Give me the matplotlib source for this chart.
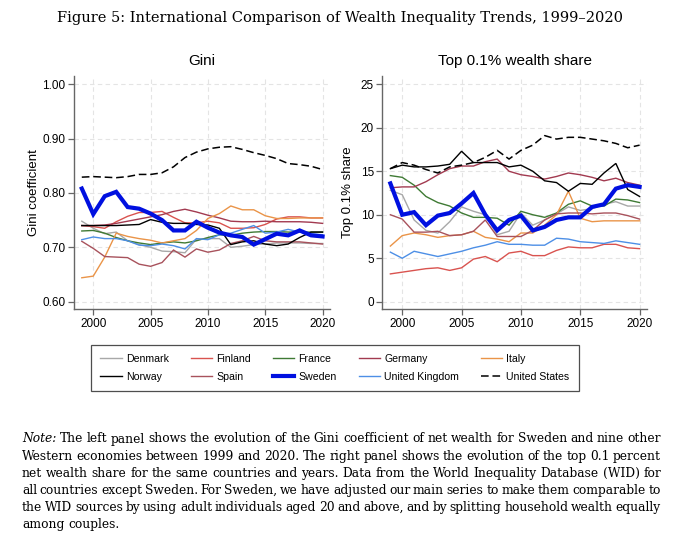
import matplotlib
matplotlib.use("Agg")
import matplotlib.pyplot as plt

years = list(range(1999, 2021))

countries = ["Denmark", "Finland", "France", "Germany", "Italy",
             "Norway", "Spain", "Sweden", "United Kingdom", "United States"]

gini_denmark = [0.748, 0.735, 0.725, 0.728, 0.712, 0.705, 0.700, 0.693, 0.692, 0.690, 0.715,
                0.716, 0.716, 0.700, 0.702, 0.705, 0.706, 0.708, 0.708, 0.708, 0.707, 0.707]
gini_finland = [0.740, 0.738, 0.735, 0.747, 0.757, 0.764, 0.764, 0.766, 0.755, 0.745, 0.745,
                0.748, 0.745, 0.735, 0.735, 0.736, 0.742, 0.752, 0.756, 0.756, 0.754, 0.754]
gini_france = [0.730, 0.731, 0.726, 0.718, 0.712, 0.708, 0.705, 0.708, 0.710, 0.708, 0.712,
               0.718, 0.723, 0.722, 0.726, 0.728, 0.729, 0.729, 0.728, 0.728, 0.728, 0.728]
gini_germany = [0.740, 0.740, 0.741, 0.744, 0.748, 0.752, 0.756, 0.760, 0.766, 0.770, 0.765,
                0.759, 0.754, 0.748, 0.747, 0.747, 0.748, 0.747, 0.747, 0.747, 0.746, 0.744]
gini_italy = [0.644, 0.647, 0.682, 0.726, 0.720, 0.716, 0.713, 0.708, 0.712, 0.716, 0.731,
              0.753, 0.762, 0.776, 0.769, 0.769, 0.758, 0.753, 0.753, 0.754, 0.754, 0.754]
gini_norway = [0.740, 0.740, 0.740, 0.740, 0.741, 0.742, 0.751, 0.746, 0.744, 0.744, 0.742,
               0.741, 0.735, 0.705, 0.710, 0.712, 0.706, 0.703, 0.706, 0.718, 0.728, 0.728]
gini_spain = [0.711, 0.698, 0.683, 0.682, 0.681, 0.669, 0.665, 0.672, 0.695, 0.682, 0.697,
              0.691, 0.695, 0.707, 0.712, 0.720, 0.712, 0.710, 0.710, 0.710, 0.708, 0.706]
gini_sweden = [0.808, 0.761, 0.794, 0.802, 0.774, 0.771, 0.762, 0.750, 0.731, 0.731, 0.747,
               0.736, 0.727, 0.722, 0.719, 0.705, 0.715, 0.725, 0.722, 0.731, 0.722, 0.720]
gini_uk = [0.714, 0.719, 0.716, 0.716, 0.712, 0.704, 0.703, 0.706, 0.703, 0.697, 0.716,
           0.714, 0.723, 0.726, 0.733, 0.740, 0.726, 0.728, 0.733, 0.728, 0.725, 0.723]
gini_us = [0.829, 0.830, 0.829, 0.828, 0.830, 0.834, 0.834, 0.837, 0.848, 0.865, 0.875,
           0.881, 0.884, 0.885, 0.880, 0.874, 0.869, 0.863, 0.854, 0.852, 0.849, 0.843]

top_denmark = [12.8, 12.3, 9.4, 8.2, 7.9, 9.2, 10.9, 10.4, 10.0, 7.7, 8.1,
               10.2, 8.8, 9.4, 10.1, 10.9, 10.5, 10.7, 11.2, 11.5, 11.0, 11.0]
top_finland = [3.2, 3.4, 3.6, 3.8, 3.9, 3.6, 3.9, 4.9, 5.2, 4.6, 5.6,
               5.8, 5.3, 5.3, 5.9, 6.3, 6.2, 6.2, 6.6, 6.6, 6.2, 6.1]
top_france = [14.5, 14.3, 13.4, 12.1, 11.4, 11.0, 10.2, 9.7, 9.7, 9.6, 8.8,
              10.4, 10.0, 9.7, 10.2, 11.2, 11.6, 11.0, 11.0, 11.8, 11.7, 11.4]
top_germany = [13.1, 13.2, 13.2, 13.8, 14.6, 15.3, 15.6, 15.6, 16.1, 16.4, 15.0,
               14.6, 14.4, 14.1, 14.4, 14.8, 14.6, 14.3, 13.9, 14.2, 13.7, 13.4]
top_italy = [6.4, 7.6, 7.9, 7.7, 7.4, 7.6, 7.7, 8.1, 7.4, 7.2, 6.9,
             7.9, 7.9, 8.8, 10.0, 12.7, 9.6, 9.2, 9.3, 9.3, 9.3, 9.3]
top_norway = [15.3, 15.7, 15.5, 15.5, 15.6, 15.8, 17.3, 16.0, 16.0, 16.0, 15.5,
              15.7, 15.0, 13.9, 13.7, 12.7, 13.6, 13.5, 14.8, 15.9, 12.9, 12.1]
top_spain = [10.0, 9.5, 8.0, 8.0, 8.1, 7.6, 7.7, 8.1, 9.4, 7.5, 7.5,
             7.5, 8.2, 9.4, 10.1, 10.2, 10.2, 10.1, 10.2, 10.2, 9.9, 9.5]
top_sweden = [13.6, 10.0, 10.3, 8.8, 9.9, 10.2, 11.3, 12.5, 10.0, 8.2, 9.4,
              9.9, 8.2, 8.6, 9.4, 9.7, 9.7, 10.9, 11.2, 13.0, 13.4, 13.2]
top_uk = [5.7, 5.0, 5.8, 5.5, 5.2, 5.5, 5.8, 6.2, 6.5, 6.9, 6.6,
          6.6, 6.5, 6.5, 7.3, 7.2, 6.9, 6.8, 6.7, 7.0, 6.8, 6.6]
top_us = [15.3, 16.0, 15.7, 15.2, 14.8, 15.5, 15.7, 16.0, 16.6, 17.4, 16.4,
          17.4, 18.0, 19.1, 18.7, 18.9, 18.9, 18.7, 18.5, 18.2, 17.7, 18.0]

gini_series = [gini_denmark, gini_finland, gini_france, gini_germany, gini_italy,
               gini_norway, gini_spain, gini_sweden, gini_uk, gini_us]
top_series = [top_denmark, top_finland, top_france, top_germany, top_italy,
              top_norway, top_spain, top_sweden, top_uk, top_us]

gini_ticks = [0.60, 0.70, 0.80, 0.90, 1.00]
top_ticks = [0, 5, 10, 15, 20, 25]
year_ticks = [2000, 2005, 2010, 2015, 2020]

title_text = "Figure 5: International Comparison of Wealth Inequality Trends, 1999\u20132020"
note_lines = [
    "The left panel shows the evolution of the Gini coefficient of net wealth for Sweden and nine other",
    "Western economies between 1999 and 2020.  The right panel shows the evolution of the top 0.1 percent",
    "net wealth share for the same countries and years.  Data from the World Inequality Database (WID) for",
    "all countries except Sweden.  For Sweden, we have adjusted our main series to make them comparable to",
    "the WID sources by using adult individuals aged 20 and above, and by splitting household wealth equally",
    "among couples.",
]

colors = ["#a8a8a8", "#d9534f", "#3f7a34", "#a23a50", "#ea9448",
          "#000000", "#a8525c", "#0010e0", "#4d8fe6", "#000000"]
widths = [1.0, 1.0, 1.0, 1.0, 1.0, 1.0, 1.0, 3.0, 1.0, 1.1]
styles = ["-"] * 9 + ["--"]

plt.rcParams["font.family"] = ["Liberation Sans", "DejaVu Sans"]

W, H = 680, 537
fig = plt.figure(figsize=(W / 100, H / 100), dpi=100)

def px_axes(l, r, t, b):
    return fig.add_axes([l / W, 1 - b / H, (r - l) / W, (b - t) / H])

axL = px_axes(74, 330, 76, 309.3)
axR = px_axes(382.3, 647.3, 76, 309.3)

def style_axis(ax, yticks, ylim, yfmt, title, ylabel, lpad):
    ax.set_xlim(1998.32, 2020.65)
    ax.set_ylim(*ylim)
    ax.set_xticks(year_ticks)
    ax.set_yticks(yticks)
    ax.set_yticklabels([yfmt.format(v) for v in yticks])
    for s in ["top", "right"]:
        ax.spines[s].set_visible(False)
    for s in ["left", "bottom"]:
        ax.spines[s].set_color("#666666")
        ax.spines[s].set_linewidth(1.0)
    ax.tick_params(direction="out", length=4, width=0.9, color="#666666",
                   labelsize=8.5, pad=2)
    ax.grid(True, color="#e4e4e4", linestyle=(0, (4, 3)), linewidth=0.8)
    ax.set_axisbelow(True)
    ax.set_title(title, fontsize=11, pad=8)
    ax.set_ylabel(ylabel, fontsize=9.5, labelpad=lpad)

order = [0, 1, 2, 3, 4, 6, 8, 5, 9, 7]  # draw Sweden last
handles = {}
for i in order:
    kw = dict(color=colors[i], lw=widths[i], label=countries[i], solid_joinstyle="miter")
    if styles[i] == "--":
        kw["dashes"] = (5, 2.5)
    h, = axL.plot(years, gini_series[i], **kw)
    axR.plot(years, top_series[i], **kw)
    handles[i] = h

style_axis(axL, gini_ticks, (0.586, 1.015), "{:.2f}", "Gini", "Gini coefficient", 2)
style_axis(axR, top_ticks, (-0.87, 25.95), "{:.0f}", "Top 0.1% wealth share", "Top 0.1% share", 5)

leg_order = [0, 5, 1, 6, 2, 7, 3, 8, 4, 9]
leg = fig.legend([handles[i] for i in leg_order], [countries[i] for i in leg_order],
                 ncol=5, loc="center", bbox_to_anchor=(335 / W, 1 - 368 / H),
                 fontsize=7.6, frameon=True, fancybox=False, edgecolor="#222222",
                 handlelength=2.0, columnspacing=2.1, handletextpad=0.4,
                 borderpad=0.9, labelspacing=0.75, borderaxespad=0)
leg.get_frame().set_linewidth(0.9)

fig.text(W / 2 / W, 1 - 18 / H, title_text, ha="center", va="center",
         family="DejaVu Serif", fontsize=10.5)

# justified note text
fig.canvas.draw()
renderer = fig.canvas.get_renderer()
left_px, right_px = 22, 661
y0, dy = 439, 17.1
note_fs = 8.8
for k, line in enumerate(note_lines):
    ypx = y0 + k * dy
    words = line.split()
    if k == 0:
        words = ["Note:"] + words
    items = []
    total = 0.0
    for j, w in enumerate(words):
        t = fig.text(0, 1 - ypx / H, w, ha="left", va="center",
                     family="DejaVu Serif", fontsize=note_fs,
                     style="italic" if (k == 0 and j == 0) else "normal")
        bb = t.get_window_extent(renderer)
        items.append((t, bb.width))
        total += bb.width
    if k < len(note_lines) - 1 and len(items) > 1:
        gap = (right_px - left_px - total) / (len(items) - 1)
    else:
        gap = 4.0
    x = left_px
    for t, wdt in items:
        t.set_x(x / W)
        x += wdt + gap

fig.savefig("out.png", dpi=100)
